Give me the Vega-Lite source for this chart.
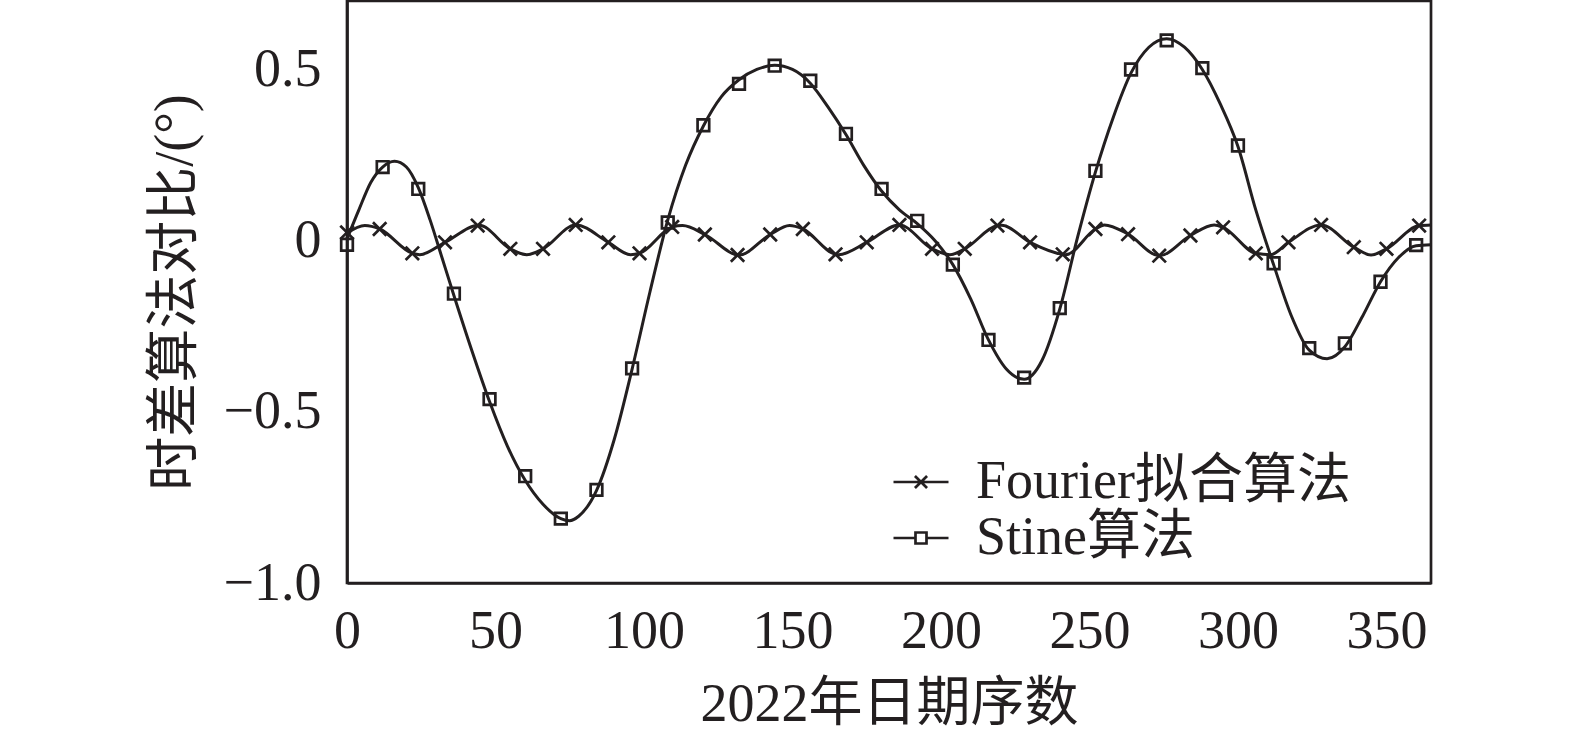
{
  "$schema": "https://vega.github.io/schema/vega-lite/v6.json",
  "width": 1084,
  "height": 582,
  "autosize": {"type": "none"},
  "padding": {"left": 347, "top": 1, "right": 144, "bottom": 150},
  "background": "white",
  "config": {
    "view": {"stroke": "#231f20", "strokeWidth": 2.7},
    "font": "Liberation Serif, Noto Sans CJK SC",
    "axis": {
      "domainColor": "#231f20", "domainWidth": 2.7,
      "grid": false,
      "labelFont": "Liberation Serif, Noto Sans CJK SC", "labelFontSize": 54, "labelColor": "#231f20",
      "titleFont": "Liberation Serif, Noto Sans CJK SC", "titleFontSize": 54, "titleColor": "#231f20", "titleFontWeight": "normal"
    },
    "legend": {
      "labelFont": "Liberation Serif, Noto Sans CJK SC", "labelFontSize": 54, "labelColor": "#231f20",
      "padding": 0, "labelOffset": 26, "labelLimit": 1000,
      "symbolSize": 3025, "symbolStrokeWidth": 2.7, "symbolStrokeColor": "#231f20", "symbolFillColor": "transparent", "symbolOpacity": 1
    }
  },
  "datasets": {
    "xticks": [{"day": 0}, {"day": 50}, {"day": 100}, {"day": 150}, {"day": 200}, {"day": 250}, {"day": 300}, {"day": 350}],
    "yticks": [{"value": -1}, {"value": -0.5}, {"value": 0}, {"value": 0.5}],
    "curve": [
      {"series": "Fourier拟合算法", "day": 0, "value": 0.022},
      {"series": "Fourier拟合算法", "day": 6, "value": 0.044},
      {"series": "Fourier拟合算法", "day": 11, "value": 0.034},
      {"series": "Fourier拟合算法", "day": 22, "value": -0.037},
      {"series": "Fourier拟合算法", "day": 24.5, "value": -0.041},
      {"series": "Fourier拟合算法", "day": 33, "value": -0.005},
      {"series": "Fourier拟合算法", "day": 44.5, "value": 0.045},
      {"series": "Fourier拟合算法", "day": 55, "value": -0.024},
      {"series": "Fourier拟合算法", "day": 60.5, "value": -0.041},
      {"series": "Fourier拟合算法", "day": 66, "value": -0.024},
      {"series": "Fourier拟合算法", "day": 77, "value": 0.046},
      {"series": "Fourier拟合算法", "day": 88, "value": -0.005},
      {"series": "Fourier拟合算法", "day": 95.5, "value": -0.041},
      {"series": "Fourier拟合算法", "day": 98.5, "value": -0.037},
      {"series": "Fourier拟合算法", "day": 109.5, "value": 0.04},
      {"series": "Fourier拟合算法", "day": 113, "value": 0.044},
      {"series": "Fourier拟合算法", "day": 120.5, "value": 0.018},
      {"series": "Fourier拟合算法", "day": 132, "value": -0.042},
      {"series": "Fourier拟合算法", "day": 142.5, "value": 0.018},
      {"series": "Fourier拟合算法", "day": 149, "value": 0.044},
      {"series": "Fourier拟合算法", "day": 153.5, "value": 0.034},
      {"series": "Fourier拟合算法", "day": 164.5, "value": -0.04},
      {"series": "Fourier拟合算法", "day": 165.5, "value": -0.041},
      {"series": "Fourier拟合算法", "day": 175, "value": -0.005},
      {"series": "Fourier拟合算法", "day": 186, "value": 0.046},
      {"series": "Fourier拟合算法", "day": 197, "value": -0.024},
      {"series": "Fourier拟合算法", "day": 203, "value": -0.041},
      {"series": "Fourier拟合算法", "day": 208, "value": -0.024},
      {"series": "Fourier拟合算法", "day": 219, "value": 0.044},
      {"series": "Fourier拟合算法", "day": 220.5, "value": 0.045},
      {"series": "Fourier拟合算法", "day": 230, "value": -0.005},
      {"series": "Fourier拟合算法", "day": 241, "value": -0.04},
      {"series": "Fourier拟合算法", "day": 242, "value": -0.041},
      {"series": "Fourier拟合算法", "day": 252, "value": 0.034},
      {"series": "Fourier拟合算法", "day": 255, "value": 0.046},
      {"series": "Fourier拟合算法", "day": 263, "value": 0.019},
      {"series": "Fourier拟合算法", "day": 273.5, "value": -0.044},
      {"series": "Fourier拟合算法", "day": 284, "value": 0.015},
      {"series": "Fourier拟合算法", "day": 292, "value": 0.046},
      {"series": "Fourier拟合算法", "day": 295, "value": 0.039},
      {"series": "Fourier拟合算法", "day": 306, "value": -0.037},
      {"series": "Fourier拟合算法", "day": 311, "value": -0.041},
      {"series": "Fourier拟合算法", "day": 317, "value": -0.005},
      {"series": "Fourier拟合算法", "day": 328, "value": 0.046},
      {"series": "Fourier拟合算法", "day": 339, "value": -0.019},
      {"series": "Fourier拟合算法", "day": 344.8, "value": -0.042},
      {"series": "Fourier拟合算法", "day": 350, "value": -0.024},
      {"series": "Fourier拟合算法", "day": 361, "value": 0.044},
      {"series": "Fourier拟合算法", "day": 365, "value": 0.046},
      {"series": "Stine算法", "day": 0, "value": 0.005},
      {"series": "Stine算法", "day": 4, "value": 0.09},
      {"series": "Stine算法", "day": 8, "value": 0.17},
      {"series": "Stine算法", "day": 12, "value": 0.215},
      {"series": "Stine算法", "day": 16, "value": 0.232},
      {"series": "Stine算法", "day": 20, "value": 0.215},
      {"series": "Stine算法", "day": 24, "value": 0.155},
      {"series": "Stine算法", "day": 28, "value": 0.06},
      {"series": "Stine算法", "day": 32, "value": -0.05},
      {"series": "Stine算法", "day": 36, "value": -0.16},
      {"series": "Stine算法", "day": 42, "value": -0.32},
      {"series": "Stine算法", "day": 48, "value": -0.47},
      {"series": "Stine算法", "day": 54, "value": -0.6},
      {"series": "Stine算法", "day": 60, "value": -0.7},
      {"series": "Stine算法", "day": 66, "value": -0.77},
      {"series": "Stine算法", "day": 72, "value": -0.812},
      {"series": "Stine算法", "day": 75, "value": -0.818},
      {"series": "Stine算法", "day": 78, "value": -0.805},
      {"series": "Stine算法", "day": 84, "value": -0.73},
      {"series": "Stine算法", "day": 90, "value": -0.58},
      {"series": "Stine算法", "day": 96, "value": -0.375},
      {"series": "Stine算法", "day": 102, "value": -0.15},
      {"series": "Stine算法", "day": 108, "value": 0.06},
      {"series": "Stine算法", "day": 114, "value": 0.22},
      {"series": "Stine算法", "day": 120, "value": 0.335},
      {"series": "Stine算法", "day": 126, "value": 0.42},
      {"series": "Stine算法", "day": 132, "value": 0.47},
      {"series": "Stine算法", "day": 138, "value": 0.5},
      {"series": "Stine算法", "day": 144, "value": 0.512},
      {"series": "Stine算法", "day": 150, "value": 0.5},
      {"series": "Stine算法", "day": 156, "value": 0.46},
      {"series": "Stine算法", "day": 162, "value": 0.39},
      {"series": "Stine算法", "day": 168, "value": 0.31},
      {"series": "Stine算法", "day": 174, "value": 0.22},
      {"series": "Stine算法", "day": 180, "value": 0.145},
      {"series": "Stine算法", "day": 186, "value": 0.09},
      {"series": "Stine算法", "day": 192, "value": 0.05},
      {"series": "Stine算法", "day": 198, "value": 0.0},
      {"series": "Stine算法", "day": 204, "value": -0.07},
      {"series": "Stine算法", "day": 210, "value": -0.17},
      {"series": "Stine算法", "day": 216, "value": -0.29},
      {"series": "Stine算法", "day": 222, "value": -0.375},
      {"series": "Stine算法", "day": 228, "value": -0.405},
      {"series": "Stine算法", "day": 234, "value": -0.35},
      {"series": "Stine算法", "day": 240, "value": -0.2},
      {"series": "Stine算法", "day": 246, "value": 0.01},
      {"series": "Stine算法", "day": 252, "value": 0.2},
      {"series": "Stine算法", "day": 258, "value": 0.36},
      {"series": "Stine算法", "day": 264, "value": 0.49},
      {"series": "Stine算法", "day": 270, "value": 0.565},
      {"series": "Stine算法", "day": 276, "value": 0.59},
      {"series": "Stine算法", "day": 282, "value": 0.565},
      {"series": "Stine算法", "day": 288, "value": 0.5},
      {"series": "Stine算法", "day": 294, "value": 0.4},
      {"series": "Stine算法", "day": 300, "value": 0.275},
      {"series": "Stine算法", "day": 306, "value": 0.09},
      {"series": "Stine算法", "day": 312, "value": -0.07},
      {"series": "Stine算法", "day": 318, "value": -0.22},
      {"series": "Stine算法", "day": 324, "value": -0.32},
      {"series": "Stine算法", "day": 330, "value": -0.345},
      {"series": "Stine算法", "day": 336, "value": -0.31},
      {"series": "Stine算法", "day": 342, "value": -0.22},
      {"series": "Stine算法", "day": 348, "value": -0.12},
      {"series": "Stine算法", "day": 354, "value": -0.05},
      {"series": "Stine算法", "day": 360, "value": -0.015},
      {"series": "Stine算法", "day": 365, "value": -0.012}
    ],
    "marker": [
      {"series": "Fourier拟合算法", "day": 0, "value": 0.024},
      {"series": "Fourier拟合算法", "day": 11, "value": 0.034},
      {"series": "Fourier拟合算法", "day": 22, "value": -0.037},
      {"series": "Fourier拟合算法", "day": 33, "value": -0.005},
      {"series": "Fourier拟合算法", "day": 44, "value": 0.044},
      {"series": "Fourier拟合算法", "day": 55, "value": -0.024},
      {"series": "Fourier拟合算法", "day": 66, "value": -0.024},
      {"series": "Fourier拟合算法", "day": 77, "value": 0.046},
      {"series": "Fourier拟合算法", "day": 88, "value": -0.005},
      {"series": "Fourier拟合算法", "day": 98.5, "value": -0.037},
      {"series": "Fourier拟合算法", "day": 109.5, "value": 0.04},
      {"series": "Fourier拟合算法", "day": 120.5, "value": 0.018},
      {"series": "Fourier拟合算法", "day": 131.5, "value": -0.042},
      {"series": "Fourier拟合算法", "day": 142.5, "value": 0.018},
      {"series": "Fourier拟合算法", "day": 153.5, "value": 0.034},
      {"series": "Fourier拟合算法", "day": 164.5, "value": -0.04},
      {"series": "Fourier拟合算法", "day": 175, "value": -0.005},
      {"series": "Fourier拟合算法", "day": 186, "value": 0.046},
      {"series": "Fourier拟合算法", "day": 197, "value": -0.024},
      {"series": "Fourier拟合算法", "day": 208, "value": -0.024},
      {"series": "Fourier拟合算法", "day": 219, "value": 0.044},
      {"series": "Fourier拟合算法", "day": 230, "value": -0.005},
      {"series": "Fourier拟合算法", "day": 241, "value": -0.04},
      {"series": "Fourier拟合算法", "day": 252, "value": 0.034},
      {"series": "Fourier拟合算法", "day": 263, "value": 0.019},
      {"series": "Fourier拟合算法", "day": 273.5, "value": -0.044},
      {"series": "Fourier拟合算法", "day": 284, "value": 0.015},
      {"series": "Fourier拟合算法", "day": 295, "value": 0.039},
      {"series": "Fourier拟合算法", "day": 306, "value": -0.037},
      {"series": "Fourier拟合算法", "day": 317, "value": -0.005},
      {"series": "Fourier拟合算法", "day": 328, "value": 0.046},
      {"series": "Fourier拟合算法", "day": 339, "value": -0.019},
      {"series": "Fourier拟合算法", "day": 350, "value": -0.024},
      {"series": "Fourier拟合算法", "day": 361, "value": 0.044},
      {"series": "Stine算法", "day": 0, "value": -0.012},
      {"series": "Stine算法", "day": 12, "value": 0.215},
      {"series": "Stine算法", "day": 24, "value": 0.151},
      {"series": "Stine算法", "day": 36, "value": -0.155},
      {"series": "Stine算法", "day": 48, "value": -0.463},
      {"series": "Stine算法", "day": 60, "value": -0.688},
      {"series": "Stine算法", "day": 72, "value": -0.812},
      {"series": "Stine算法", "day": 84, "value": -0.728},
      {"series": "Stine算法", "day": 96, "value": -0.373},
      {"series": "Stine算法", "day": 108, "value": 0.053},
      {"series": "Stine算法", "day": 120, "value": 0.337},
      {"series": "Stine算法", "day": 132, "value": 0.458},
      {"series": "Stine算法", "day": 144, "value": 0.511},
      {"series": "Stine算法", "day": 156, "value": 0.467},
      {"series": "Stine算法", "day": 168, "value": 0.312},
      {"series": "Stine算法", "day": 180, "value": 0.151},
      {"series": "Stine算法", "day": 192, "value": 0.058},
      {"series": "Stine算法", "day": 204, "value": -0.07},
      {"series": "Stine算法", "day": 216, "value": -0.29},
      {"series": "Stine算法", "day": 228, "value": -0.4},
      {"series": "Stine算法", "day": 240, "value": -0.197},
      {"series": "Stine算法", "day": 252, "value": 0.204},
      {"series": "Stine算法", "day": 264, "value": 0.5},
      {"series": "Stine算法", "day": 276, "value": 0.585},
      {"series": "Stine算法", "day": 288, "value": 0.504},
      {"series": "Stine算法", "day": 300, "value": 0.278},
      {"series": "Stine算法", "day": 312, "value": -0.066},
      {"series": "Stine算法", "day": 324, "value": -0.314},
      {"series": "Stine算法", "day": 336, "value": -0.3},
      {"series": "Stine算法", "day": 348, "value": -0.12},
      {"series": "Stine算法", "day": 360, "value": -0.013}
    ]
  },
  "resolve": {
    "scale": {"opacity": "independent"},
    "legend": {"opacity": "independent"}
  },
  "encoding": {
    "x": {
      "field": "day", "type": "quantitative",
      "scale": {"domain": [0, 365], "nice": false, "zero": false},
      "axis": {
        "title": "2022年日期序数",
        "values": [0, 50, 100, 150, 200, 250, 300, 350],
        "ticks": false, "tickSize": 0, "labelPadding": 21, "labelFlush": false,
        "titleBaseline": "alphabetic", "titleY": 137
      }
    },
    "y": {
      "field": "value", "type": "quantitative",
      "scale": {"domain": [-1, 0.7], "nice": false, "zero": false},
      "axis": {
        "title": "时差算法对比/(°)",
        "values": [-1, -0.5, 0, 0.5],
        "labelExpr": "datum.value == 0 ? '0' : format(datum.value, '.1f')",
        "ticks": false, "tickSize": 0, "labelPadding": 26, "labelFlush": false,
        "titleX": -172, "titleY": 291, "titleAngle": -90, "titleAlign": "center", "titleBaseline": "middle"
      }
    }
  },
  "layer": [
    {
      "data": {"name": "curve"},
      "mark": {"type": "line", "color": "#231f20", "strokeWidth": 3, "interpolate": "monotone"},
      "encoding": {
        "detail": {"field": "series"},
        "order": {"field": "day"}
      }
    },
    {
      "data": {"name": "xticks"},
      "mark": {"type": "rule", "color": "#231f20", "strokeWidth": 2.7},
      "encoding": {
        "y": {"datum": -1, "type": "quantitative"},
        "y2": {"datum": -0.968}
      }
    },
    {
      "data": {"name": "yticks"},
      "mark": {"type": "rule", "color": "#231f20", "strokeWidth": 2.7},
      "encoding": {
        "x": {"datum": 0, "type": "quantitative"},
        "x2": {"datum": 4.4}
      }
    },
    {
      "data": {"name": "marker"},
      "transform": [{"filter": "datum.series === 'Fourier拟合算法'"}],
      "mark": {"type": "point", "filled": false, "color": "#231f20", "strokeWidth": 2.7, "shape": "M-1,-1L1,1M-1,1L1,-1", "size": 180},
      "encoding": {
        "opacity": {
          "field": "series", "type": "nominal",
          "scale": {"domain": ["Fourier拟合算法"], "range": [1]},
          "legend": {
            "title": null, "orient": "none", "legendX": 545, "legendY": 452,
            "symbolType": "M-1,0H1M-0.22,-0.22L0.22,0.22M-0.22,0.22L0.22,-0.22"
          }
        }
      }
    },
    {
      "data": {"name": "marker"},
      "transform": [{"filter": "datum.series === 'Stine算法'"}],
      "mark": {"type": "point", "filled": false, "color": "#231f20", "strokeWidth": 2.7, "shape": "square", "size": 135},
      "encoding": {
        "opacity": {
          "field": "series", "type": "nominal",
          "scale": {"domain": ["Stine算法"], "range": [1]},
          "legend": {
            "title": null, "orient": "none", "legendX": 545, "legendY": 508,
            "symbolType": "M-1,0H-0.2M0.2,0H1M-0.2,-0.2H0.2V0.2H-0.2Z"
          }
        }
      }
    }
  ]
}
